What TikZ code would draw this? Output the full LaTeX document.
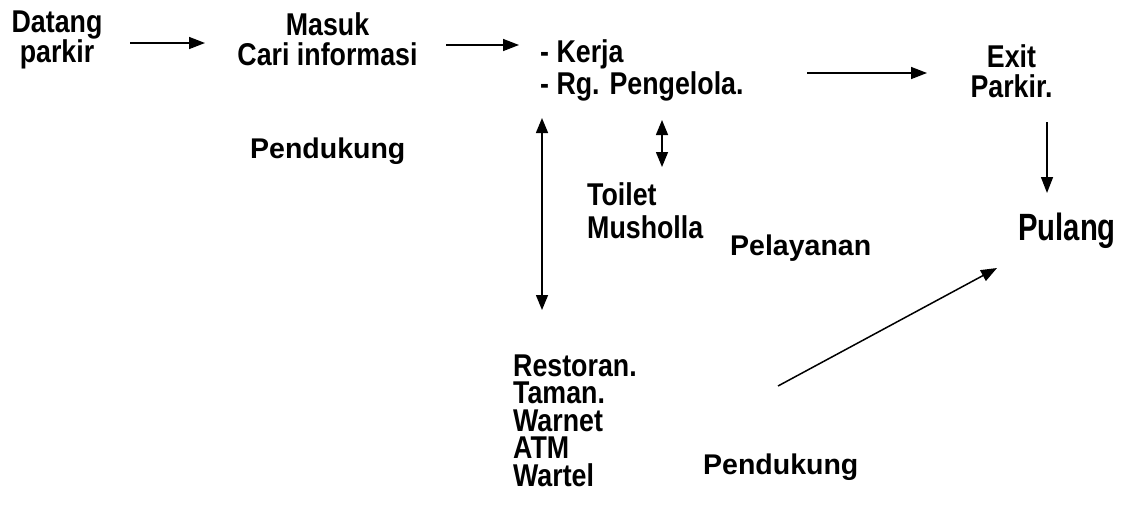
\documentclass[tikz,border=0pt]{standalone}
\usepackage{fontspec}
\setmainfont{Liberation Sans}
\newfontfamily\txtfont{Liberation Sans}[FakeStretch=0.85]
\newfontfamily\bigfont{Liberation Sans}[FakeStretch=0.77]
\usetikzlibrary{arrows.meta,calc}
\tikzset{
  txt/.style={inner sep=0pt, font=\txtfont\bfseries\fontsize{31.5}{#1}\selectfont},
  txt/.default=30,
  lbl/.style={inner sep=0pt, font=\bfseries\fontsize{28.5}{28.5}\selectfont},
  big/.style={inner sep=0pt, font=\bigfont\bfseries\fontsize{38}{38}\selectfont},
  arr/.style={line width=1.5pt, -{Triangle[length=16pt,width=12pt]}},
  darr/.style={line width=1.5pt, {Triangle[length=15pt,width=12pt]}-{Triangle[length=15pt,width=12pt]}}
}
\begin{document}
\begin{tikzpicture}[x=1pt,y=-1pt]
\useasboundingbox (0,0) rectangle (1123,512);
% step nodes
\node[txt=30,align=center,anchor=north] (datang) at (57,10.4) {Datang\\parkir};
\node[txt=30,align=center,anchor=north] (masuk) at (327.5,12.4) {Masuk\\Cari informasi};
\node[txt=32,align=left,anchor=north west] (kerja) at (540,39.4) {- Kerja\\- Rg. Pengelola.};
\node[txt=30,align=center,anchor=north] (exit) at (1011.5,44.4) {Exit\\Parkir.};
\node[big,anchor=base west] (pu) at (1018,240) {Pulang};
\node[txt=33,align=left,anchor=north west] (toilet) at (587,182) {Toilet\\Musholla};
\node[txt=27.5,align=left,anchor=north west] (rest) at (513,354.4) {Restoran.\\Taman.\\Warnet\\ATM\\Wartel};
% labels
\node[lbl,anchor=base west] (pend1) at (250,158) {Pendukung};
\node[lbl,anchor=base west] (pel) at (730,255) {Pelayanan};
\node[lbl,anchor=base west] (pend2) at (703,474) {Pendukung};
\coordinate (dstart) at (778,386);
% connectors
\draw[arr] ($(datang.north)+(73,32.6)$) -- ($(masuk.north)+(-122.5,30.6)$);
\draw[arr] ($(masuk.north)+(118.5,32.6)$) -- ($(kerja.north west)+(-21,5.6)$);
\draw[arr] ($(kerja.north west)+(267,33.6)$) -- ($(exit.north)+(-84.5,28.6)$);
\draw[arr] ($(exit.north)+(35.5,77.6)$) -- ($(pu.base west)+(29,-47)$);
\draw[darr] ($(kerja.north west)+(2,78.6)$) -- ($(rest.north west)+(29,-44.4)$);
\draw[darr] ($(kerja.north west)+(122,80.6)$) -- ($(toilet.north west)+(75,-15)$);
\draw[arr] (dstart) -- ($(pu.base west)+(-21,28)$);
\end{tikzpicture}
\end{document}
